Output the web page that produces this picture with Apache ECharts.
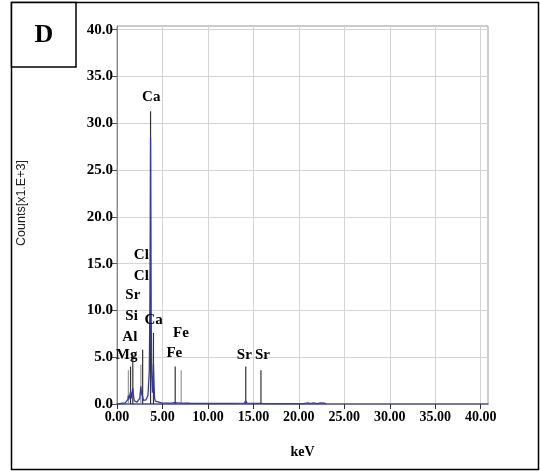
<!DOCTYPE html>
<html><head><meta charset="utf-8">
<script src="https://cdn.jsdelivr.net/npm/echarts@6/dist/echarts.min.js"></script>
<style>html,body{margin:0;padding:0;background:#fff}#c{width:540px;height:472px}</style>
</head><body><div id="c"></div>
<script>
// Spectrum (keV, counts x1000)
const spectrum = [
  [0.0,0.0],[0.3,0.05],[0.6,0.1],[0.9,0.12],[1.1,0.2],[1.2,0.5],[1.25,0.9],[1.3,0.5],[1.4,0.4],
  [1.49,1.3],[1.56,0.6],[1.65,0.5],[1.74,1.7],[1.8,1.0],[1.9,0.35],[2.0,0.25],[2.1,0.35],[2.2,0.2],
  [2.3,0.3],[2.4,0.35],[2.5,0.6],[2.62,1.9],[2.7,1.1],[2.82,0.8],[2.9,0.4],[3.0,0.3],[3.2,0.45],
  [3.4,0.9],[3.55,3.5],[3.62,11.0],[3.66,20.0],[3.69,28.5],[3.72,20.0],[3.76,9.0],[3.82,3.0],
  [3.9,1.2],[3.96,2.5],[4.01,4.3],[4.06,2.5],[4.12,0.8],[4.2,0.3],[4.4,0.15],[5.0,0.1],[6.0,0.1],
  [6.3,0.15],[6.4,0.35],[6.5,0.15],[7.0,0.1],[8.0,0.08],[10.0,0.06],[12.0,0.06],[14.0,0.1],
  [14.16,0.35],[14.3,0.1],[16.0,0.06],[18.0,0.05],[20.5,0.05],[21.0,0.12],[21.3,0.05],[21.6,0.12],
  [22.0,0.05],[22.4,0.12],[22.8,0.1],[23.0,0.0]
];
// Element marker lines: keV, height, shade (0 dark, 1 gray)
const markerKeV    = [1.25, 1.49, 1.74, 2.62, 2.82, 3.69, 4.01, 6.40, 7.06, 14.16, 15.83];
const markerHeight = [3.6,  4.0,  5.3,  4.2,  5.8,  31.3, 7.6,  4.0,  3.6,  4.0,   3.6];
const markerShade  = [1,    0,    0,    1,    0,    0,    0,    0,    1,    0,     0];
// Element labels
const labelText = ['Ca','Cl','Cl','Sr','Si','Ca','Al','Mg','Fe','Fe','Sr','Sr'];
const labelX    = [3.77, 2.68, 2.68, 1.74, 1.60, 4.02, 1.41, 1.05, 7.03, 6.30, 14.0, 16.0];
const labelY    = [32.8, 15.9, 13.7, 11.6, 9.4,  9.0,  7.2,  5.2,  7.6,  5.4,  5.2,  5.2];
const xTicks = [0,5,10,15,20,25,30,35,40];
const yTicks = [0,5,10,15,20,25,30,35,40];

const serifBold = {fontFamily:'Liberation Serif', fontWeight:'bold', color:'#000'};
const chart = echarts.init(document.getElementById('c'), null, {renderer:'canvas'});
chart.setOption({
  animation:false,
  grid:{left:117, top:26, right:52, bottom:68, show:true, borderColor:'#999', borderWidth:1, backgroundColor:'transparent'},
  xAxis:{
    type:'value', min:0, max:40.8, interval:5,
    name:'keV', nameLocation:'middle', nameGap:41,
    nameTextStyle:Object.assign({fontSize:14}, serifBold),
    axisLine:{show:true, onZero:false, lineStyle:{color:'#5a5a90', width:1.5}},
    axisTick:{show:true, length:5, customValues:xTicks, lineStyle:{color:'#333'}},
    axisLabel:Object.assign({fontSize:14, margin:6, customValues:xTicks, formatter:v=>v.toFixed(2)}, serifBold),
    splitLine:{show:true, lineStyle:{color:'#d4d4d4', width:1}}
  },
  yAxis:{
    type:'value', min:0, max:40.4, interval:5,
    axisLine:{show:true, lineStyle:{color:'#888'}},
    axisTick:{show:true, length:5, customValues:yTicks, lineStyle:{color:'#555'}},
    axisLabel:Object.assign({fontSize:15, margin:4, customValues:yTicks, formatter:v=>v.toFixed(1)}, serifBold),
    splitLine:{show:true, lineStyle:{color:'#d4d4d4', width:1}}
  },
  series:[
    {
      type:'bar', barWidth:1.2, z:2,
      data:markerKeV.map((k,i)=>({value:[k, markerHeight[i]], itemStyle:{color: markerShade[i] ? '#999' : '#333'}}))
    },
    {
      type:'line', data:spectrum, showSymbol:false, symbol:'none', z:3,
      lineStyle:{color:'#3838a8', width:1.3}
    },
    {
      type:'scatter', symbolSize:0, z:4, itemStyle:{opacity:1, color:'#000'},
      data:labelText.map((t,i)=>({value:[labelX[i], labelY[i]], name:t})),
      label:Object.assign({show:true, position:[0,0], align:'center', verticalAlign:'middle', fontSize:15, formatter:p=>p.name}, serifBold)
    }
  ],
  graphic:[
    {type:'text', x:22, y:203, rotation:Math.PI/2, style:{text:'Counts[x1.E+3]', font:'12.5px "Liberation Sans"', fill:'#222', align:'center', verticalAlign:'middle'}},
    {type:'rect', shape:{x:11.5, y:2.5, width:527, height:467}, style:{fill:'none', stroke:'#000', lineWidth:1.5}, z:10},
    {type:'rect', shape:{x:11.5, y:2.5, width:64.5, height:64.5}, style:{fill:'#fff', stroke:'#000', lineWidth:1.5}, z:10},
    {type:'text', x:44, y:35, style:{text:'D', font:'bold 26px "Liberation Serif"', fill:'#000', align:'center', verticalAlign:'middle'}, z:11}
  ]
});
</script></body></html>
